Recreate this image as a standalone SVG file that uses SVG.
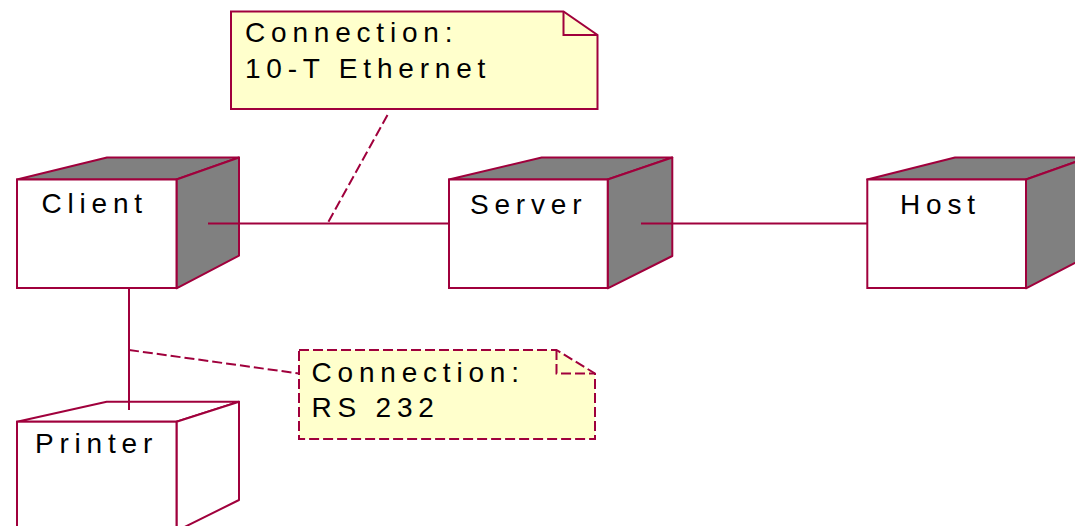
<svg xmlns="http://www.w3.org/2000/svg" width="1075" height="526" viewBox="0 0 1075 526">
<style>
.edge{stroke:#a0003c;stroke-width:2;fill:none}
.front{fill:#ffffff;stroke:#a0003c;stroke-width:2}
.shade{fill:#808080;stroke:#a0003c;stroke-width:2;stroke-linejoin:round}
.plain{fill:#ffffff;stroke:#a0003c;stroke-width:2;stroke-linejoin:round}
.note{fill:#ffffcc;stroke:#a0003c;stroke-width:2}
.dash{stroke-dasharray:10 4}
.lbl{font-family:"Liberation Sans",Arial,sans-serif;font-size:28px;letter-spacing:5.8px;fill:#000000}
</style>
<rect width="1075" height="526" fill="#ffffff"/>
<g id="note-ethernet">
<path class="note" d="M231,11.5 H563.5 L597.5,35 V109 H231 Z"/>
<path class="edge" d="M563.5,11.5 V35 H597.5"/>
<text class="lbl" x="245" y="41.5">Connection:</text>
<text class="lbl" x="245" y="78">10-T Ethernet</text>
</g>
<g id="note-rs232">
<path class="note dash" d="M299,350 H556.5 L595,373.5 V439 H299 Z"/>
<path class="edge dash" d="M556.5,350 V373.5 H595"/>
<text class="lbl" x="311.5" y="381.5">Connection:</text>
<text class="lbl" x="311.5" y="417">RS 232</text>
</g>
<g id="client">
<path class="shade" d="M17,179.5 L107,157.5 H239 L176.5,179.5 Z"/>
<path class="shade" d="M176.5,179.5 L239,157.5 V255.7 L176.5,288.3 Z"/>
<rect class="front" x="17" y="179.5" width="159.5" height="108.5"/>
<text class="lbl" x="41.5" y="213.3">Client</text>
</g>
<g id="server">
<path class="shade" d="M449,179.5 L541.7,157.5 H672.3 L607.7,179.5 Z"/>
<path class="shade" d="M607.7,179.5 L672.3,157.5 V256 L607.7,288.3 Z"/>
<rect class="front" x="449" y="179.5" width="158.7" height="108.5"/>
<text class="lbl" x="470" y="214">Server</text>
</g>
<g id="host">
<path class="shade" d="M867.3,179.5 L955,157.5 H1088 L1026,179.5 Z"/>
<path class="shade" d="M1026,179.5 L1088,157.5 V256 L1026,288.3 Z"/>
<rect class="front" x="867.3" y="179.5" width="158.7" height="108.5"/>
<text class="lbl" x="900" y="214">Host</text>
</g>
<g id="printer">
<path class="plain" d="M17,421.7 L106.7,401.7 H239 L176.5,421.7 Z"/>
<path class="plain" d="M176.5,421.7 L239,401.7 V500 L176.5,531 Z"/>
<rect class="front" x="17" y="421.7" width="159.5" height="120"/>
<text class="lbl" x="35" y="453">Printer</text>
</g>
<g id="connectors">
<line class="edge" x1="208" y1="223.5" x2="449" y2="223.5"/>
<line class="edge" x1="641" y1="223.5" x2="867" y2="223.5"/>
<line class="edge" x1="129" y1="288" x2="129" y2="410"/>
<line class="edge dash" x1="387.5" y1="115" x2="327.5" y2="223.5"/>
<line class="edge dash" x1="129" y1="350" x2="299" y2="373.5"/>
</g>
</svg>
